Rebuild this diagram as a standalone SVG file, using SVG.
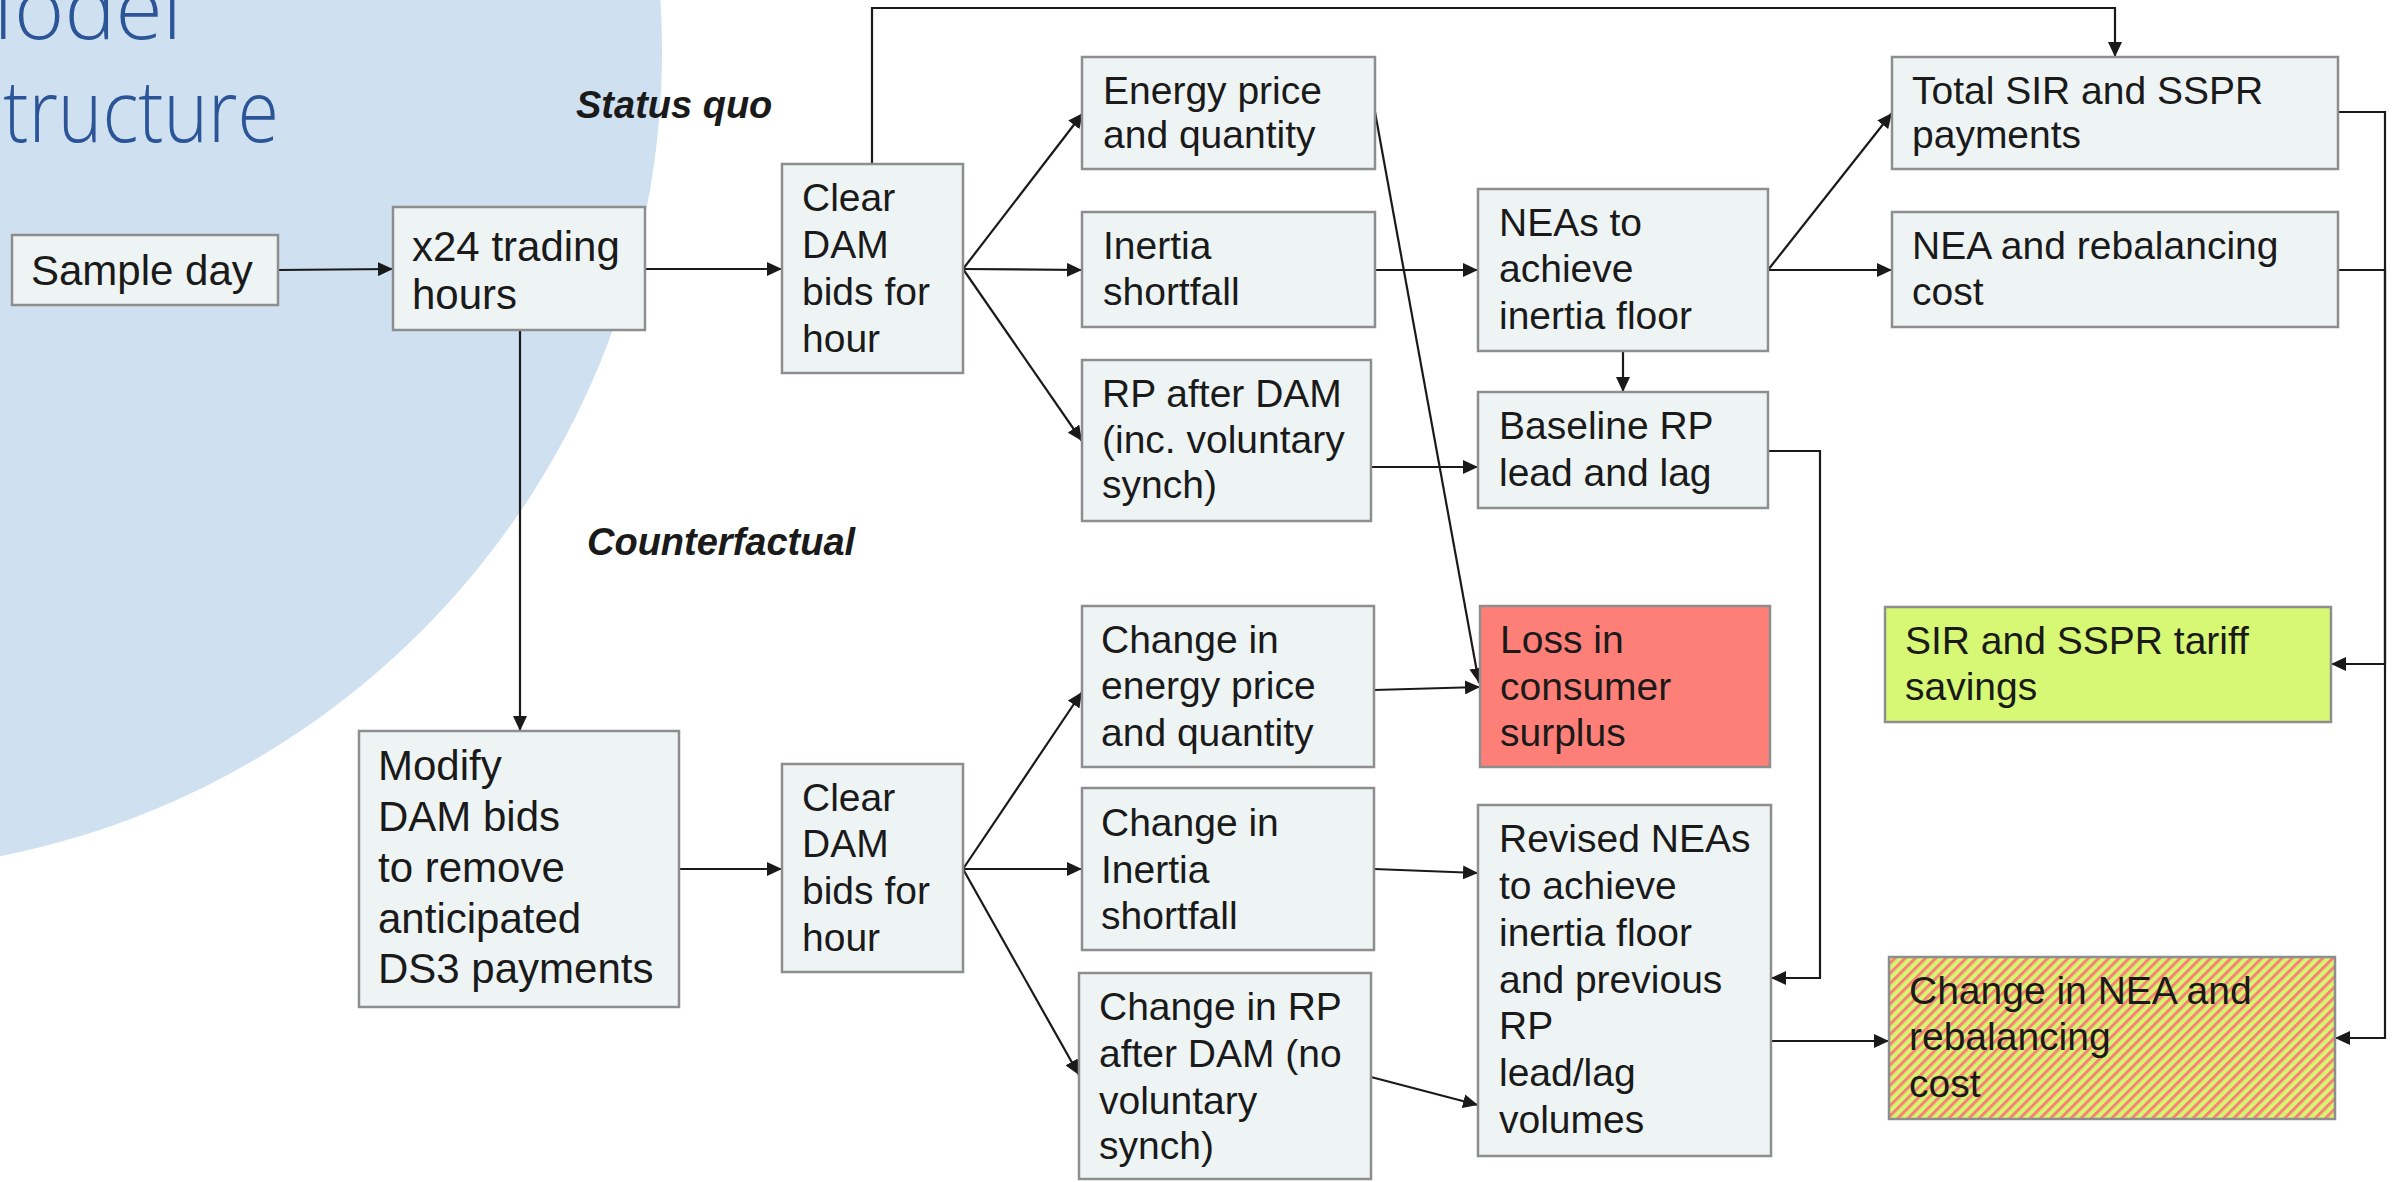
<svg xmlns="http://www.w3.org/2000/svg" width="2404" height="1182" viewBox="0 0 2404 1182">
  <defs>
    <style>
      .box { fill: #eef4f4; stroke: #8e8e8e; stroke-width: 2.5; }
      .loss { fill: #fe7f77; }
      .lime { fill: #d6f874; }
      .hatch { fill: url(#stripes); }
      .t { font-family: "Liberation Sans", Arial, sans-serif; font-size: 39px; fill: #1a1a1a; }
      .tl { font-size: 42px; }
      .lbl { font-family: "Liberation Sans", Arial, sans-serif; font-size: 38px; font-weight: bold; font-style: italic; fill: #1a1a1a; }
      .title { font-family: "Open Sans", "Lato", sans-serif; font-weight: 300; font-size: 86px; fill: #2b5597; }
      .c { fill: none; stroke: #1a1a1a; stroke-width: 2.2; }
      .a { marker-end: url(#arrow); }
    </style>
    <marker id="arrow" markerUnits="userSpaceOnUse" markerWidth="16" markerHeight="14" refX="15" refY="7" orient="auto">
      <path d="M0,0 L15,7 L0,14 z" fill="#1a1a1a"/>
    </marker>
    <!-- upward diagonal red/lime hatch -->
    <pattern id="stripes" patternUnits="userSpaceOnUse" width="7.2" height="7.2" patternTransform="rotate(45)">
      <rect x="0" y="0" width="7.2" height="7.2" fill="#d4f670"/>
      <rect x="0" y="0" width="3.0" height="7.2" fill="#fa7f76"/>
    </pattern>
  </defs>

  <!-- background disc and slide title -->
  <circle cx="-160" cy="50" r="822" fill="#cfe0f0"/>
  <text class="title" x="-60" y="39" textLength="242" lengthAdjust="spacingAndGlyphs">Model</text>
  <text class="title" x="-38" y="142" textLength="317" lengthAdjust="spacingAndGlyphs">Structure</text>

  <!-- scenario labels -->
  <text class="lbl" x="576" y="118">Status quo</text>
  <text class="lbl" x="587" y="555">Counterfactual</text>

  <!-- connectors -->
  <g id="connectors">
    <path class="c a" d="M278,270 L393,269"/>
    <path class="c a" d="M645,269 L782,269"/>
    <path class="c a" d="M520,330 L520,731"/>
    <path class="c a" d="M872,164 V8 H2115 V57"/>
    <path class="c a" d="M963,269 L1083,113"/>
    <path class="c a" d="M963,269 L1082,270"/>
    <path class="c a" d="M963,269 L1082,441"/>
    <path class="c a" d="M1375,270 L1478,270"/>
    <path class="c a" d="M1371,467 L1478,467"/>
    <path class="c a" d="M1768,270 L1892,113"/>
    <path class="c a" d="M1768,270 L1892,270"/>
    <path class="c a" d="M1623,351 L1623,392"/>
    <path class="c a" d="M1375,112 L1479,683"/>
    <path class="c a" d="M1768,451 H1820 V978 H1771"/>
    <path class="c a" d="M2338,112 H2385 V664 H2331"/>
    <path class="c a" d="M2338,270 H2385 V1038 H2335"/>
    <path class="c a" d="M679,869 L782,869"/>
    <path class="c a" d="M963,869 L1082,692"/>
    <path class="c a" d="M963,869 L1082,869"/>
    <path class="c a" d="M963,869 L1079,1075"/>
    <path class="c a" d="M1374,690 L1480,687"/>
    <path class="c a" d="M1374,869 L1478,873"/>
    <path class="c a" d="M1371,1077 L1478,1105"/>
    <path class="c a" d="M1771,1041 L1889,1041"/>
  </g>

  <!-- status quo branch -->
  <g id="sample-day">
    <rect class="box" x="12" y="235" width="266" height="70"/>
    <text class="t tl" x="31" y="285">Sample day</text>
  </g>
  <g id="trading-hours">
    <rect class="box" x="393" y="207" width="252" height="123"/>
    <text class="t tl" x="412" y="261">x24 trading</text>
    <text class="t tl" x="412" y="309">hours</text>
  </g>
  <g id="clear-dam">
    <rect class="box" x="782" y="164" width="181" height="209"/>
    <text class="t" x="802" y="211">Clear</text>
    <text class="t" x="802" y="258">DAM</text>
    <text class="t" x="802" y="305">bids for</text>
    <text class="t" x="802" y="352">hour</text>
  </g>
  <g id="energy-price">
    <rect class="box" x="1082" y="57" width="293" height="112"/>
    <text class="t" x="1103" y="104">Energy price</text>
    <text class="t" x="1103" y="148">and quantity</text>
  </g>
  <g id="inertia-shortfall">
    <rect class="box" x="1082" y="212" width="293" height="115"/>
    <text class="t" x="1103" y="259">Inertia</text>
    <text class="t" x="1103" y="305">shortfall</text>
  </g>
  <g id="rp-after-dam">
    <rect class="box" x="1082" y="360" width="289" height="161"/>
    <text class="t" x="1102" y="407">RP after DAM</text>
    <text class="t" x="1102" y="453">(inc. voluntary</text>
    <text class="t" x="1102" y="498">synch)</text>
  </g>
  <g id="neas">
    <rect class="box" x="1478" y="189" width="290" height="162"/>
    <text class="t" x="1499" y="236">NEAs to</text>
    <text class="t" x="1499" y="282">achieve</text>
    <text class="t" x="1499" y="329">inertia floor</text>
  </g>
  <g id="baseline-rp">
    <rect class="box" x="1478" y="392" width="290" height="116"/>
    <text class="t" x="1499" y="439">Baseline RP</text>
    <text class="t" x="1499" y="486">lead and lag</text>
  </g>
  <g id="total-payments">
    <rect class="box" x="1892" y="57" width="446" height="112"/>
    <text class="t" x="1912" y="104">Total SIR and SSPR</text>
    <text class="t" x="1912" y="148">payments</text>
  </g>
  <g id="nea-cost">
    <rect class="box" x="1892" y="212" width="446" height="115"/>
    <text class="t" x="1912" y="259">NEA and rebalancing</text>
    <text class="t" x="1912" y="305">cost</text>
  </g>

  <!-- counterfactual branch -->
  <g id="modify-bids">
    <rect class="box" x="359" y="731" width="320" height="276"/>
    <text class="t tl" x="378" y="780">Modify</text>
    <text class="t tl" x="378" y="831">DAM bids</text>
    <text class="t tl" x="378" y="882">to remove</text>
    <text class="t tl" x="378" y="933">anticipated</text>
    <text class="t tl" x="378" y="983">DS3 payments</text>
  </g>
  <g id="clear-dam-cf">
    <rect class="box" x="782" y="764" width="181" height="208"/>
    <text class="t" x="802" y="811">Clear</text>
    <text class="t" x="802" y="857">DAM</text>
    <text class="t" x="802" y="904">bids for</text>
    <text class="t" x="802" y="951">hour</text>
  </g>
  <g id="change-energy">
    <rect class="box" x="1082" y="606" width="292" height="161"/>
    <text class="t" x="1101" y="653">Change in</text>
    <text class="t" x="1101" y="699">energy price</text>
    <text class="t" x="1101" y="746">and quantity</text>
  </g>
  <g id="consumer-surplus">
    <rect class="box loss" x="1480" y="606" width="290" height="161"/>
    <text class="t" x="1500" y="653">Loss in</text>
    <text class="t" x="1500" y="700">consumer</text>
    <text class="t" x="1500" y="746">surplus</text>
  </g>
  <g id="change-inertia">
    <rect class="box" x="1082" y="788" width="292" height="162"/>
    <text class="t" x="1101" y="836">Change in</text>
    <text class="t" x="1101" y="883">Inertia</text>
    <text class="t" x="1101" y="929">shortfall</text>
  </g>
  <g id="change-rp">
    <rect class="box" x="1079" y="973" width="292" height="206"/>
    <text class="t" x="1099" y="1020">Change in RP</text>
    <text class="t" x="1099" y="1067">after DAM (no</text>
    <text class="t" x="1099" y="1114">voluntary</text>
    <text class="t" x="1099" y="1159">synch)</text>
  </g>
  <g id="revised-neas">
    <rect class="box" x="1478" y="805" width="293" height="351"/>
    <text class="t" x="1499" y="852">Revised NEAs</text>
    <text class="t" x="1499" y="899">to achieve</text>
    <text class="t" x="1499" y="946">inertia floor</text>
    <text class="t" x="1499" y="993">and previous</text>
    <text class="t" x="1499" y="1039">RP</text>
    <text class="t" x="1499" y="1086">lead/lag</text>
    <text class="t" x="1499" y="1133">volumes</text>
  </g>
  <g id="tariff-savings">
    <rect class="box lime" x="1885" y="607" width="446" height="115"/>
    <text class="t" x="1905" y="654">SIR and SSPR tariff</text>
    <text class="t" x="1905" y="700">savings</text>
  </g>
  <g id="change-nea-cost">
    <rect class="box hatch" x="1889" y="957" width="446" height="162"/>
    <text class="t" x="1909" y="1004">Change in NEA and</text>
    <text class="t" x="1909" y="1050">rebalancing</text>
    <text class="t" x="1909" y="1097">cost</text>
  </g>
</svg>
